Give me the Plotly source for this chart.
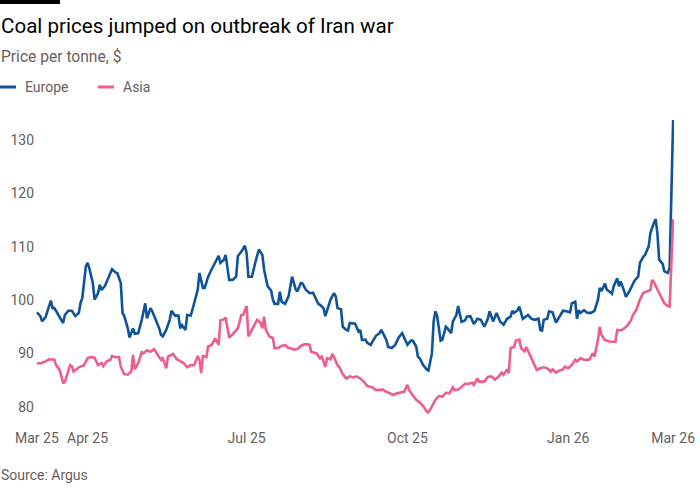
import pandas as pd
import plotly.graph_objects as go

# ---------------- data ----------------
start_date = "2025-03-03"

europe_day = [0, 2, 3, 5, 6, 8, 9, 10, 12, 13, 15, 16, 18, 20, 21, 22, 24, 25, 26, 27, 28, 29, 30, 32, 33, 35, 36, 37, 39, 40,
              42, 43, 45, 46, 48, 49, 50, 52, 53, 55, 56, 58, 60, 62, 63, 65, 66, 68, 70, 71, 72, 74, 76, 77, 79, 81, 82, 83, 85, 86,
              88, 89, 91, 92, 93, 95, 96, 98, 100, 102, 104, 105, 107, 108, 110, 112, 114, 115, 117, 119, 120, 121, 123, 125, 127, 129, 130, 132, 134, 135,
              136, 138, 139, 140, 142, 144, 146, 148, 149, 151, 152, 154, 156, 158, 159, 161, 162, 164, 165, 166, 168, 170, 171, 172, 174, 175, 177, 178, 179, 181,
              182, 184, 185, 186, 188, 189, 191, 192, 194, 196, 197, 198, 200, 201, 203, 205, 207, 209, 210, 212, 214, 215, 217, 218, 219, 221, 223, 224, 226, 227,
              228, 229, 231, 232, 234, 235, 237, 238, 240, 241, 243, 245, 246, 248, 250, 252, 254, 256, 258, 259, 261, 263, 265, 267, 269, 271, 272, 273, 275, 276,
              278, 280, 281, 283, 285, 287, 288, 289, 290, 292, 293, 295, 297, 299, 301, 303, 305, 306, 308, 309, 310, 311, 313, 315, 317, 319, 321, 322, 323, 325,
              326, 328, 329, 330, 332, 333, 334, 336, 337, 339, 341, 342, 344, 345, 347, 348, 350, 351, 353, 354, 355, 356, 358, 359, 361, 362, 364]
europe_price = [97.7, 97.0, 96.0, 96.8, 97.9, 99.9, 98.5, 98.5, 97.4, 96.8, 95.7, 97.2, 98.0, 98.0, 97.6, 97.0, 97.6, 99.5, 100.4, 103.8,
                106.3, 107.0, 106.0, 103.2, 100.1, 101.3, 102.9, 101.9, 102.7, 103.5, 105.1, 105.8, 105.2, 105.1, 103.2, 97.6, 97.0, 94.7, 93.0, 94.7,
                93.7, 93.8, 96.3, 99.4, 96.6, 98.5, 97.9, 96.3, 94.7, 93.5, 93.2, 94.4, 96.3, 98.0, 97.1, 97.1, 94.7, 95.3, 94.4, 97.2,
                97.1, 98.2, 100.4, 101.9, 105.1, 102.3, 102.3, 104.4, 105.8, 107.0, 108.3, 107.0, 107.6, 108.5, 103.8, 103.8, 104.4, 108.3, 109.1, 110.2,
                108.8, 104.4, 104.4, 107.1, 109.5, 108.5, 105.7, 102.6, 101.8, 100.1, 99.3, 99.3, 101.6, 99.7, 99.3, 100.7, 104.4, 102.1, 101.6, 103.2,
                103.1, 101.9, 101.3, 101.4, 100.7, 99.3, 99.1, 98.5, 97.0, 97.9, 100.1, 101.3, 100.7, 98.5, 98.3, 95.0, 94.4, 94.3, 95.7, 95.6,
                95.6, 94.1, 94.4, 92.5, 92.6, 92.0, 91.6, 92.2, 93.3, 93.8, 94.4, 93.8, 92.5, 91.2, 91.0, 91.6, 93.0, 93.8, 93.0, 91.6,
                92.4, 92.4, 91.3, 89.4, 89.1, 87.8, 87.0, 86.8, 90.0, 96.0, 97.9, 97.0, 92.4, 92.6, 95.0, 94.7, 93.8, 96.0, 97.2, 98.9,
                95.9, 96.2, 96.9, 97.0, 95.5, 96.5, 96.3, 95.0, 96.5, 97.9, 96.0, 97.6, 96.0, 95.4, 96.5, 96.9, 98.0, 97.6, 98.1, 98.8,
                96.5, 96.9, 97.2, 96.5, 96.3, 96.5, 94.4, 94.3, 96.3, 96.5, 97.9, 97.7, 95.8, 96.9, 98.0, 97.9, 97.7, 99.4, 99.7, 96.5,
                98.1, 97.6, 98.1, 97.6, 97.6, 98.0, 100.1, 102.3, 101.7, 103.1, 102.0, 101.5, 101.2, 102.6, 104.1, 102.6, 103.5, 101.7, 100.6, 101.7,
                103.2, 103.7, 104.4, 107.0, 108.2, 108.5, 110.1, 112.6, 114.5, 115.2, 112.6, 107.6, 106.8, 105.4, 105.1, 106.1, 133.8]

asia_day = [0, 2, 5, 7, 10, 11, 13, 15, 16, 19, 20, 21, 24, 27, 29, 31, 33, 35, 37, 38, 40, 42, 43, 45, 47, 48, 50, 52, 54, 55,
            56, 58, 60, 61, 63, 65, 67, 69, 71, 72, 74, 75, 78, 80, 82, 84, 86, 88, 90, 92, 93, 94, 95, 97, 98, 100, 102, 104, 105, 107,
            108, 110, 112, 114, 115, 117, 118, 120, 121, 123, 126, 128, 129, 130, 131, 133, 135, 136, 138, 140, 142, 144, 145, 147, 149, 151, 153, 155, 156, 157,
            159, 160, 162, 163, 165, 166, 168, 169, 170, 172, 173, 175, 177, 179, 181, 183, 185, 187, 189, 192, 194, 197, 198, 200, 202, 204, 206, 208, 210, 212,
            213, 215, 217, 219, 221, 223, 224, 226, 228, 230, 232, 234, 236, 238, 239, 241, 243, 245, 247, 249, 250, 252, 253, 256, 258, 260, 262, 264, 266, 267,
            269, 270, 271, 273, 274, 276, 277, 279, 280, 282, 284, 286, 288, 290, 292, 294, 295, 297, 299, 301, 302, 304, 306, 308, 309, 311, 313, 316, 318, 319,
            321, 322, 323, 325, 328, 331, 332, 334, 336, 338, 340, 341, 343, 345, 347, 349, 351, 352, 353, 355, 357, 359, 361, 362, 364]
asia_price = [88.2, 88.1, 88.5, 88.9, 88.8, 87.8, 86.9, 84.5, 84.6, 87.8, 87.6, 86.6, 87.4, 87.8, 89.1, 89.3, 89.2, 87.8, 88.2, 87.6,
              88.5, 88.8, 89.5, 89.3, 89.3, 87.5, 86.1, 86.0, 86.6, 89.7, 87.0, 88.2, 90.2, 90.0, 90.6, 90.3, 90.8, 89.9, 88.8, 89.1,
              87.2, 89.4, 89.9, 88.9, 88.6, 88.2, 87.4, 87.8, 87.8, 89.5, 88.8, 86.3, 89.5, 89.3, 91.3, 91.6, 92.8, 91.6, 96.2, 96.4,
              96.7, 93.0, 93.6, 94.4, 94.7, 97.2, 97.2, 98.9, 93.2, 94.4, 96.3, 95.7, 94.7, 96.9, 94.4, 93.2, 92.9, 91.0, 91.0, 91.4,
              91.6, 91.0, 91.0, 90.7, 90.8, 91.4, 91.7, 91.7, 91.6, 90.3, 90.0, 90.0, 89.1, 89.4, 87.5, 89.1, 88.9, 89.9, 89.3, 87.8,
              87.5, 86.1, 85.3, 85.7, 85.5, 85.7, 85.3, 84.7, 83.9, 83.6, 83.1, 83.1, 83.2, 82.8, 82.5, 82.2, 82.5, 82.6, 82.8, 84.1,
              83.1, 82.2, 81.3, 80.8, 80.1, 79.1, 78.9, 80.0, 81.3, 82.0, 81.9, 82.6, 82.5, 83.6, 83.1, 83.2, 83.7, 84.3, 84.3, 84.5,
              84.1, 85.3, 84.7, 84.7, 85.6, 85.7, 85.1, 85.6, 86.4, 86.0, 87.0, 86.3, 91.0, 91.2, 92.4, 92.6, 91.0, 90.4, 91.2, 89.7,
              88.2, 86.9, 87.2, 87.4, 87.2, 86.6, 87.0, 86.4, 86.8, 87.0, 87.5, 87.2, 87.8, 88.8, 88.5, 89.1, 88.8, 88.8, 90.0, 89.4,
              92.5, 95.0, 93.5, 92.5, 92.2, 92.2, 94.4, 94.3, 94.7, 95.3, 96.3, 97.2, 98.2, 100.1, 101.4, 101.7, 101.9, 103.8, 103.4, 102.0,
              100.7, 99.4, 98.9, 98.8, 115.2]

tick_dates = ["2025-03-03", "2025-04-01", "2025-07-01", "2025-10-01", "2026-01-01", "2026-03-02"]
tick_labels = ["Mar 25", "Apr 25", "Jul 25", "Oct 25", "Jan 26", "Mar 26"]
y_ticks = [80, 90, 100, 110, 120, 130]

series_names = ["Europe", "Asia"]
series_colors = ["#0f5499", "#eb5e8d"]

# ---------------- figure ----------------
t0 = pd.Timestamp(start_date)
europe_dates = t0 + pd.to_timedelta(europe_day, unit="D")
asia_dates = t0 + pd.to_timedelta(asia_day, unit="D")

W, H = 700, 500
ML, MR, MT, MB = 36, 26, 111, 80
PW, PH = W - ML - MR, H - MT - MB


def px(x):
    return (x - ML) / PW


def py(y):
    return 1 - (y - MT) / PH


FONT = "Roboto"
GREY = "#66605c"

fig = go.Figure()
fig.add_trace(go.Scatter(x=europe_dates, y=europe_price, mode="lines", name=series_names[0],
                         line=dict(color=series_colors[0], width=2.6), showlegend=False))
fig.add_trace(go.Scatter(x=asia_dates, y=asia_price, mode="lines", name=series_names[1],
                         line=dict(color=series_colors[1], width=2.6), showlegend=False))

annotations = [
    dict(text="Coal prices jumped on outbreak of Iran war", x=px(-1), y=py(26), xanchor="left", yanchor="middle",
         font=dict(family=FONT, size=20.6, color="#000000")),
    dict(text="Price per tonne, $", x=px(-1), y=py(57), xanchor="left", yanchor="middle",
         font=dict(family=FONT, size=15.6, color=GREY)),
    dict(text=series_names[0], x=px(23), y=py(87), xanchor="left", yanchor="middle",
         font=dict(family=FONT, size=14, color=GREY)),
    dict(text=series_names[1], x=px(121), y=py(87), xanchor="left", yanchor="middle",
         font=dict(family=FONT, size=14, color=GREY)),
    dict(text="Source: Argus", x=px(-1), y=py(475), xanchor="left", yanchor="middle",
         font=dict(family=FONT, size=14, color=GREY)),
]
for a in annotations:
    a.update(xref="paper", yref="paper", showarrow=False)

shapes = [
    dict(type="rect", x0=px(0), x1=px(60), y0=py(4), y1=py(0), fillcolor="#000000", line=dict(width=0)),
    dict(type="line", x0=px(0), x1=px(16), y0=py(87), y1=py(87), line=dict(color=series_colors[0], width=3)),
    dict(type="line", x0=px(98), x1=px(114), y0=py(87), y1=py(87), line=dict(color=series_colors[1], width=3)),
]
for s in shapes:
    s.update(xref="paper", yref="paper")

fig.update_layout(
    width=W, height=H,
    margin=dict(l=ML, r=MR, t=MT, b=MB, pad=0, autoexpand=False),
    paper_bgcolor="white", plot_bgcolor="white",
    font=dict(family=FONT, size=14, color=GREY),
    annotations=annotations, shapes=shapes,
    showlegend=False,
    xaxis=dict(type="date", range=["2025-03-02 12:00", "2026-03-02 12:00"], automargin=False,
               tickvals=tick_dates, ticktext=tick_labels, showgrid=False, zeroline=False,
               showline=False, ticks="", tickfont=dict(family=FONT, size=14, color=GREY),
               ticklabelstandoff=8),
    yaxis=dict(range=[77.5, 135.5], tickvals=y_ticks, showgrid=False, zeroline=False, automargin=False,
               showline=False, ticks="", tickfont=dict(family=FONT, size=14, color=GREY),
               ticklabelstandoff=1),
)

fig.write_html("out.html")
